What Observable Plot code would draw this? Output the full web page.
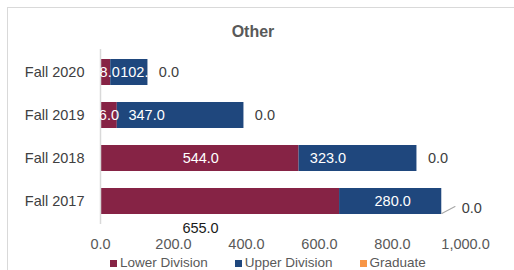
<!DOCTYPE html>
<html><head><meta charset="utf-8">
<script src="https://cdn.jsdelivr.net/npm/d3@7"></script>
<script src="https://cdn.jsdelivr.net/npm/@observablehq/plot@0.6"></script>
<style>
body{margin:0;background:#fff;font-family:"Liberation Sans",Arial,sans-serif}
#wrap{position:relative;width:514px;height:270px;overflow:hidden;background:#fff}
#frame{position:absolute;left:7px;top:7px;width:520px;height:280px;border:1.5px solid #d9d9d9}
#title{position:absolute;left:7px;width:492px;top:23px;text-align:center;font-weight:bold;font-size:16px;color:#595959}
#legend{position:absolute;left:110px;top:255px;display:flex;gap:27px;font-size:13.5px;color:#595959;white-space:nowrap}
.sw{display:inline-block;width:7px;height:7px;margin-right:3px}
#wrap svg{position:absolute;left:0;top:0}
</style></head><body><div id="wrap"><div id="frame"></div><div id="title"></div><div id="legend"></div></div>
<script>
const chartTitle = "Other";
const categories = ["Fall 2020", "Fall 2019", "Fall 2018", "Fall 2017"];
const seriesNames = ["Lower Division", "Upper Division", "Graduate"];
const seriesColors = ["#862345", "#1f477d", "#f79646"];
const lowerDivision = [28, 46, 544, 655];
const upperDivision = [102, 347, 323, 280];
const graduate = [0, 0, 0, 0];
const xTicks = [0, 200, 400, 600, 800, 1000];

const fmt = d3.format(",.1f");
const seriesValues = [lowerDivision, upperDivision, graduate];
const rows = categories.flatMap((c, i) => seriesNames.map((s, j) => ({cat: c, series: s, value: seriesValues[j][i]})));

// label nudges (px), layout only
const lowerNudge = [0, -4, 1, 0];
const upperNudge = [9, -34, -30, 2];

const labelMarks = [];
categories.forEach((c, i) => {
  const lo = lowerDivision[i], up = upperDivision[i], gr = graduate[i];
  const total = lo + up + gr;
  const isBelow = c === "Fall 2017";
  labelMarks.push(Plot.text([{cat: c, x: lo / 2, v: lo}], {
    x: "x", y: "cat", text: d => fmt(d.v),
    fill: isBelow ? "#1a1a1a" : "white",
    dx: isBelow ? -19.5 : lowerNudge[i], dy: isBelow ? 27 : 0, fontSize: 14.5
  }));
  labelMarks.push(Plot.text([{cat: c, x: lo + up / 2, v: up}], {
    x: "x", y: "cat", text: d => fmt(d.v), fill: "white", dx: upperNudge[i], fontSize: 14.5
  }));
  labelMarks.push(Plot.text([{cat: c, x: total, v: gr}], {
    x: "x", y: "cat", text: d => fmt(d.v), fill: "#404040",
    dx: isBelow ? 30 : 21, dy: isBelow ? 7 : 0, fontSize: 14.5
  }));
  if (isBelow) {
    labelMarks.push(Plot.vector([{cat: c, x: total}], {
      x: "x", y: "cat", dy: 12, rotate: 62, length: 15, anchor: "start",
      stroke: "#a6a6a6", strokeWidth: 1,
      shape: {draw(ctx, l) { ctx.moveTo(0, 0); ctx.lineTo(0, -l); }}
    }));
  }
});

const plot = Plot.plot({
  width: 514, height: 270,
  marginLeft: 100, marginRight: 49, marginTop: 49, marginBottom: 46,
  style: {background: "transparent", fontFamily: "'Liberation Sans', Arial, sans-serif"},
  x: {domain: [0, 1000], label: null},
  y: {domain: categories, paddingInner: 0.4, paddingOuter: 0.2, label: null},
  color: {domain: seriesNames, range: seriesColors},
  marks: [
    Plot.barX(rows, Plot.stackX({x: "value", y: "cat", fill: "series", order: seriesNames})),
    Plot.ruleX([0], {stroke: "#d9d9d9", strokeWidth: 1.5}),
    Plot.axisX({ticks: xTicks, tickSize: 0, tickPadding: 14, tickFormat: fmt, fontSize: 14.5, fill: "#595959", label: null}),
    Plot.axisY({tickSize: 0, tickPadding: 16, fontSize: 14.5, fill: "#404040", label: null}),
    ...labelMarks
  ]
});
document.getElementById("wrap").appendChild(plot);
document.getElementById("title").textContent = chartTitle;
const legend = document.getElementById("legend");
seriesNames.forEach((s, j) => {
  const item = document.createElement("span");
  item.innerHTML = `<span class="sw" style="background:${seriesColors[j]}"></span>${s}`;
  legend.appendChild(item);
});
</script></body></html>
